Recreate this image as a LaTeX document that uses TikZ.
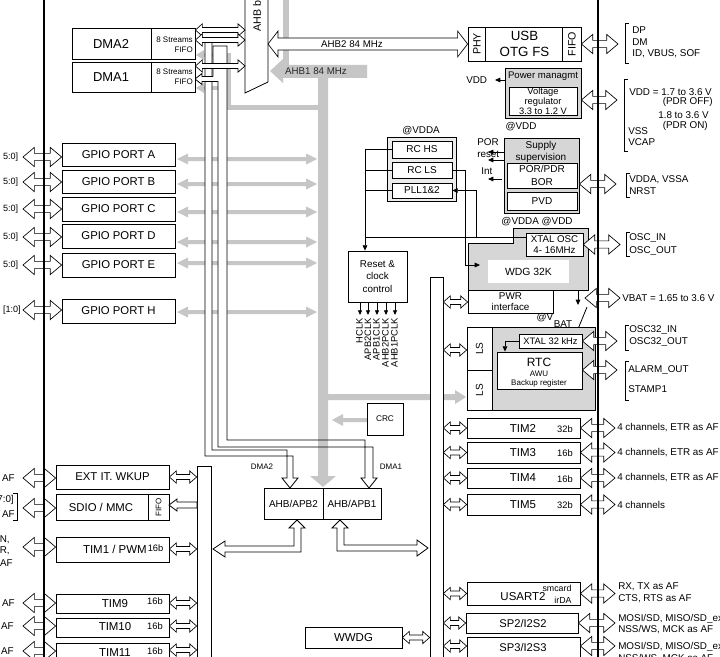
\documentclass[tikz,border=0pt]{standalone}
\usepackage{fontspec}
\setmainfont{Liberation Sans}
\usetikzlibrary{calc,arrows.meta}
\definecolor{busgrey}{RGB}{198,198,198}
\definecolor{boxgrey}{RGB}{214,214,214}
\definecolor{rcgrey}{RGB}{236,236,236}
\newcommand{\fs}[2]{\fontsize{#1pt}{#2pt}\selectfont}
\newcommand{\bx}[7][]{\node[box,minimum width={(#5-#3)*0.75pt},minimum height={(#6-#4)*0.75pt},#1] (#2) at ({(#3+#5)/2},{(#4+#6)/2}) {#7};}
\newcommand{\gdarr}[1]{\fill[busgrey] (177,#1) -- (188,#1-5.5) -- (188,#1-2) -- (306,#1-2) -- (306,#1-5.5) -- (317,#1) -- (306,#1+5.5) -- (306,#1+2) -- (188,#1+2) -- (188,#1+5.5) -- cycle;}
\newcommand{\brk}[3]{\draw[thinl] ({#1+4},#2) -- (#1,#2) -- (#1,#3) -- ({#1+4},#3);}
\tikzset{
 box/.style={draw,line width=0.6pt,fill=white,inner sep=0pt,align=center,font=\fs{8.5}{9}},
 thinl/.style={line width=0.6pt},
 harr/.style n args={3}{draw=black,line width=0.5pt,fill=white,to path={let \p1=(\tikztostart),\p2=(\tikztotarget) in (\x1,\y1) -- (\x1+#1pt,\y1+#2pt) -- (\x1+#1pt,\y1+#3pt) -- (\x2-#1pt,\y1+#3pt) -- (\x2-#1pt,\y1+#2pt) -- (\x2,\y1) -- (\x2-#1pt,\y1-#2pt) -- (\x2-#1pt,\y1-#3pt) -- (\x1+#1pt,\y1-#3pt) -- (\x1+#1pt,\y1-#2pt) -- cycle}},
 bigarr/.style={harr={8.5}{7.2}{2.7}},
 smlarr/.style={harr={5.2}{4.6}{1.9}},
 lbl/.style={inner sep=0pt,font=\fs{7.4}{8.4}},
 tip/.style={-{Triangle[length=4pt,width=3.5pt]}},
}
\begin{document}
\begin{tikzpicture}[x=0.75pt,y=-0.75pt]
\useasboundingbox (0,0) rectangle (720,656);
\clip (0,0) rectangle (720,656);
\fill[white] (0,0) rectangle (720,656);

% ---- grey secondary buses
\foreach \yy in {159,184,212,242,263,312} {\gdarr{\yy}}
\fill[busgrey] (196,55) -- (204,50) -- (204,53) -- (227,53) -- (227,57) -- (204,57) -- (204,60) -- cycle;
\fill[busgrey] (196,88) -- (204,83) -- (204,86) -- (227,86) -- (227,90) -- (204,90) -- (204,93) -- cycle;
\fill[busgrey] (227,53) rectangle (231,110);
\fill[busgrey] (227,105) rectangle (320,110);
\fill[busgrey] (328,394) -- (455,394) -- (455,390) -- (466,397) -- (455,404) -- (455,400) -- (328,400) -- cycle;
\fill[busgrey] (367,418) -- (343,418) -- (343,414) -- (332,420) -- (343,426) -- (343,422) -- (367,422) -- cycle;

% ---- DMA pipes (fill)
\fill[white] (205,43) -- (205,456) -- (293,456) -- (293,478) -- (298,478) -- (290,488) -- (282,478) -- (287,478) -- (287,450) -- (212,450) -- (212,43) -- cycle;
\fill[white] (218,81.5) -- (218,447) -- (373,447) -- (373,478) -- (377,478) -- (369,488) -- (361,478) -- (365,478) -- (365,440) -- (227,440) -- (227,46) -- (213,46) -- (213,76.5) -- cycle;

% ---- main grey buses
\fill[busgrey] (283,-2) rectangle (289,66);
\fill[busgrey] (367,65) -- (283,65) -- (283,59) -- (270,71) -- (283,83) -- (283,78) -- (367,78) -- cycle;
\fill[busgrey] (318,70) -- (318,476) -- (310,476) -- (323,487) -- (336,476) -- (328,476) -- (328,70) -- cycle;
\node[lbl,font=\fs{7.3}{8},text=black!85] at (316,71) {AHB1 84 MHz};

% ---- DMA pipes (strokes)
\draw[thinl] (205,43) -- (205,456) -- (293,456) -- (293,478) -- (298,478) -- (290,488) -- (282,478) -- (287,478) -- (287,450) -- (212,450) -- (212,43);
\draw[thinl] (213,76.5) -- (213,46) -- (227,46) -- (227,440) -- (365,440) -- (365,478) -- (361,478) -- (369,488) -- (377,478) -- (373,478) -- (373,447) -- (218,447) -- (218,81.5);
\draw[thinl,fill=white] (213,76.5) -- (202,76.5) -- (202,73.5) -- (195,79) -- (202,84.5) -- (202,81.5) -- (218,81.5);

% ---- bus matrix
\draw[thinl,fill=white] (245,-3) -- (245,93) -- (268,82) -- (268,-3);
\node[rotate=90,anchor=west,inner sep=0pt,font=\fs{8}{9}] (ahbm) at (257,32) {AHB b};

% ---- DMA
\bx{dma2}{72}{28}{195}{59}{}
\bx{dma1}{72}{62}{195}{92}{}
\draw[thinl] (151,28) -- (151,59) (151,62) -- (151,92);
\node[font=\fs{9.7}{10}] at (111,44) {DMA2};
\node[font=\fs{9.7}{10}] at (111,77) {DMA1};
\node[font=\fs{6}{7.5},align=right,anchor=east,inner sep=0pt] at (193,45) {8 Streams\\FIFO};
\node[font=\fs{6}{7.5},align=right,anchor=east,inner sep=0pt] at (193,77) {8 Streams\\FIFO};

% ---- USB
\bx[font=\fs{10}{12.5}]{usb}{468}{27}{581}{61}{USB\\OTG FS}
\draw[thinl] (485,27) -- (485,61) (562,27) -- (562,61);
\node[rotate=90,font=\fs{8}{9},inner sep=0pt] at (477,44) {PHY};
\node[rotate=90,font=\fs{8}{9},inner sep=0pt] at (572,44) {FIFO};
\draw[harr={7.5}{9.7}{4.5}] (268,44) to (usb.west);
\node[lbl,font=\fs{7.3}{8}] at (352,44) {AHB2 84 MHz};

% ---- power management
\bx[fill=boxgrey]{pwrm}{505}{68}{581}{118}{}
\node[font=\fs{7.2}{8},inner sep=0pt] at (543,76) {Power managmt};
\bx[font=\fs{7}{6.2}]{vreg}{509}{87}{577}{115}{Voltage\\regulator\\3.3 to 1.2 V}
\node[lbl,anchor=west] at (466,80) {VDD};
\draw[thinl,tip] (pwrm.west |- 0,80) -- (495,80);

% ---- RC oscillators
\bx[fill=rcgrey]{rcg}{387}{137}{456}{201}{}
\bx[font=\fs{7.5}{8}]{rchs}{392}{141}{452}{158}{RC HS}
\bx[font=\fs{7.5}{8}]{rcls}{392}{162}{452}{178}{RC LS}
\bx[font=\fs{7.5}{8}]{pll}{392}{183}{452}{198}{PLL1\&2}
\node[lbl] at (421,131) {@VDDA};

% ---- supply supervision
\bx[fill=boxgrey]{sup}{504}{138}{579}{213}{}
\node[font=\fs{7.5}{9},align=center,inner sep=0pt] at (541,152) {Supply\\supervision};
\bx[font=\fs{7.5}{9.7}]{por}{507}{163}{577}{188}{POR/PDR\\BOR}
\bx[font=\fs{7.5}{8}]{pvd}{507}{192}{577}{210}{PVD}
\node[lbl] at (521,127) {@VDD};
\node[lbl,anchor=west] at (477,142) {POR};
\node[lbl,anchor=west] at (477,154) {reset};
\node[lbl,anchor=west] at (481,171) {Int};
\draw[thinl,tip] (sup.west |- 0,152) -- (488,152);
\draw[thinl,tip] (sup.west |- 0,160) -- (488,160);
\draw[thinl,tip] (502,179) -- (488,179);

% ---- XTAL OSC / WDG
\draw[thinl,fill=boxgrey] (468,243) -- (513,243) -- (513,228) -- (588,228) -- (588,290) -- (468,290) -- cycle;
\bx[font=\fs{7.3}{8.5}]{xosc}{526}{233}{583}{256}{XTAL OSC\\4- 16MHz}
\node[fill=white,minimum width={81*0.75pt},minimum height={23*0.75pt},inner sep=0pt,font=\fs{7.8}{9}] (wdg) at (528.5,271.5) {WDG 32K};
\node[lbl] at (537,222) {@VDDA @VDD};

% ---- RCC
\bx[font=\fs{7.4}{9.4}]{rcc}{348}{251}{407}{302}{Reset \&\\clock\\control}
\draw[thinl,tip] (rchs.west) -- (365,149.5) -- (rcc.north -| 365,0);
\draw[thinl] (rcls.west) -- (365,170);
\draw[thinl] (pll.west) -- (365,190.5);
\draw[thinl,tip] (rcls.east) -- (465,170) -- (465,265) -- (480,265);
\draw[thinl] (xosc.west |- 0,237) -- (365,237);
\draw[thinl,tip] (476,237) -- (476,190.5) -- (pll.east);
\foreach \xx in {360,368,377,386,395} \draw[thinl,-{Triangle[length=3.5pt,width=3pt]}] (\xx,302) -- (\xx,315);
\foreach \xx/\lab in {359.5/HCLK,368/APB2CLK,376.5/APB1CLK,385.5/AHB2PCLK,394.5/AHB1PCLK}
  \node[rotate=90,anchor=east,inner sep=0pt,font=\fs{7}{8}] at (\xx,318) {\lab};

% ---- PWR / RTC
\bx[font=\fs{7.4}{8.3}]{pwr}{468}{290}{553}{313}{PWR\\interface}
\draw[thinl,tip] (578,290) -- (578,305);
\draw[thinl] (578,329) -- (587,307);
\node[lbl] at (545,318) {@V};
\node[lbl] at (563,324) {BAT};
\bx[fill=boxgrey]{rtcblk}{467}{327}{595}{410}{}
\bx{ls1}{467}{327}{492}{370}{}
\bx{ls2}{467}{370}{492}{410}{}
\node[rotate=90,font=\fs{7.5}{8},inner sep=0pt] at (ls1) {LS};
\node[rotate=90,font=\fs{7.5}{8},inner sep=0pt] at (ls2) {LS};
\bx[font=\fs{7}{8}]{x32}{519}{334}{582}{348}{XTAL 32 kHz}
\bx{rtc}{497}{352}{582}{389}{}
\node[font=\fs{9}{10},inner sep=0pt] at (539,362) {RTC};
\node[font=\fs{6}{7},inner sep=0pt] at (539,374) {AWU};
\node[font=\fs{6}{7},inner sep=0pt] at (539,383) {Backup register};
\draw[thinl,tip] (x32.west) -- (505,341) -- (rtc.north -| 505,0);

% ---- CRC, bars
\bx[font=\fs{6.2}{7}]{crc}{367}{403}{403}{435}{CRC}
\bx{apb1bar}{430}{277}{443}{662}{}
\bx{apb2bar}{197}{466}{211}{662}{}

% ---- APB1 peripherals
\bx{tim2}{467}{418}{580}{438}{}
\bx{tim3}{467}{442}{580}{463}{}
\bx{tim4}{467}{468}{580}{488}{}
\bx{tim5}{467}{494}{580}{515}{}
\foreach \nm/\yy/\bits in {TIM2/428/32b,TIM3/452.5/16b,TIM4/478/16b,TIM5/504.5/32b}
  {\node[font=\fs{8.6}{9},inner sep=0pt] at (523,\yy) {\nm};
   \node[font=\fs{7}{8},inner sep=0pt] at (565,\yy+1) {\bits};}
\bx{usart}{467}{582}{580}{605}{}
\node[font=\fs{8.6}{9},inner sep=0pt] at (523,597) {USART2};
\node[font=\fs{6.6}{7},inner sep=0pt] at (557,588) {smcard};
\node[font=\fs{6.6}{7},inner sep=0pt] at (563,600) {irDA};
\bx{sp2}{466}{613}{578}{633}{}
\node[font=\fs{8.4}{9},inner sep=0pt] at (523,623) {SP2/I2S2};
\bx{sp3}{467}{637}{580}{672}{}
\node[font=\fs{8.4}{9},inner sep=0pt] at (523,647) {SP3/I2S3};
\bx[font=\fs{8.6}{9}]{wwdg}{305}{627}{402}{648}{WWDG}

% ---- bridges
\bx[font=\fs{7.5}{8}]{apb2}{264}{488}{323}{519}{AHB/APB2}
\bx[font=\fs{7.5}{8}]{apb1}{323}{488}{381}{519}{AHB/APB1}
\node[font=\fs{6}{7},inner sep=0pt] at (262,467) {DMA2};
\node[font=\fs{6}{7},inner sep=0pt] at (391,467) {DMA1};
\draw[thinl,fill=white] (297,520) -- (305,528) -- (301,528) -- (301,552) -- (225,552) -- (225,557) -- (213,549) -- (225,541) -- (225,546) -- (294,546) -- (294,528) -- (289,528) -- cycle;
\draw[thinl,fill=white] (340,520) -- (348,528) -- (344,528) -- (344,545) -- (417,545) -- (417,540) -- (428,548) -- (417,556) -- (417,551) -- (337,551) -- (337,528) -- (332,528) -- cycle;

% ---- GPIO and APB2 peripherals
\bx{gpA}{62}{143}{175}{166}{GPIO PORT A}
\bx{gpB}{62}{170}{175}{193}{GPIO PORT B}
\bx{gpC}{62}{197}{175}{221}{GPIO PORT C}
\bx{gpD}{62}{224}{175}{248}{GPIO PORT D}
\bx{gpE}{62}{253}{175}{277}{GPIO PORT E}
\bx{gpH}{62}{299}{175}{323}{GPIO PORT H}
\bx{ext}{56}{465}{169}{489}{EXT IT. WKUP}
\bx{sdio}{56}{494}{169}{520}{}
\draw[thinl] (148,494) -- (148,520);
\node[font=\fs{8.5}{9},inner sep=0pt] at (101,507) {SDIO / MMC};
\node[rotate=90,font=\fs{6}{7},inner sep=0pt] at (158.5,507) {FIFO};
\bx{tim1}{56}{537}{169}{562}{}
\node[font=\fs{8.6}{9},inner sep=0pt,anchor=east] at (147,549) {TIM1 / PWM};
\node[font=\fs{7}{8},inner sep=0pt,anchor=west] at (147.5,548) {16b};
\bx{tim9}{56}{594}{169}{613}{}
\bx{tim10}{56}{618}{169}{637}{}
\bx{tim11}{56}{643}{169}{672}{}
\foreach \nm/\yy/\by in {TIM9/604/601,TIM10/627/626,TIM11/653/651}
  {\node[font=\fs{8.6}{9},inner sep=0pt] at (115,\yy) {\nm};
   \node[font=\fs{7}{8},inner sep=0pt] at (155,\by) {16b};}

% ---- hollow arrows, left
\draw[bigarr] (23,157) to (gpA.west);
\draw[bigarr] (23,182) to (gpB.west);
\draw[bigarr] (23,209) to (gpC.west);
\draw[bigarr] (23,237) to (gpD.west);
\draw[bigarr] (23,265) to (gpE.west);
\draw[bigarr] (23,310) to (gpH.west);
\draw[bigarr] (23,478) to (ext.west);
\draw[bigarr] (23,508) to (sdio.west);
\draw[bigarr] (23,547) to (tim1.west);
\draw[bigarr] (23,603) to (tim9.west);
\draw[bigarr] (23,626) to (tim10.west);
\draw[bigarr] (23,651) to (tim11.west);
\draw[smlarr] (dma2.east |- 0,30) to (245,30);
\draw[smlarr] (dma2.east |- 0,40) to (245,40);
\draw[smlarr] (dma1.east |- 0,66) to (245,66);
\draw[smlarr] (ext.east) to (apb2bar.west |- ext.east);
\draw[smlarr] (tim1.east |- 0,549) to (apb2bar.west |- 0,549);
\draw[smlarr] (tim9.east |- 0,603) to (apb2bar.west |- 0,603);
\draw[smlarr] (tim10.east |- 0,626) to (apb2bar.west |- 0,626);
\draw[smlarr] (tim11.east |- 0,650) to (apb2bar.west |- 0,650);
\draw[thinl,fill=white] (169,505) -- (177,499) -- (177,502) -- (197,502) -- (197,508) -- (177,508) -- (177,511) -- cycle;

% ---- hollow arrows, right
\draw[smlarr] (apb1bar.east |- 0,302) to (pwr.west);
\draw[smlarr] (apb1bar.east |- 0,350) to (ls1.west);
\draw[smlarr] (apb1bar.east |- tim2.west) to (tim2.west);
\draw[smlarr] (apb1bar.east |- tim3.west) to (tim3.west);
\draw[smlarr] (apb1bar.east |- tim4.west) to (tim4.west);
\draw[smlarr] (apb1bar.east |- tim5.west) to (tim5.west);
\draw[smlarr] (apb1bar.east |- usart.west) to (usart.west);
\draw[smlarr] (apb1bar.east |- sp2.west) to (sp2.west);
\draw[smlarr] (apb1bar.east |- 0,646) to (sp3.west);
\draw[smlarr] (wwdg.east) to (apb1bar.west |- wwdg.east);
\draw[bigarr] (usb.east) to (618,44);
\draw[bigarr] (pwrm.east |- 0,100) to (617,100);
\draw[bigarr] (sup.east |- 0,184) to (616,184);
\draw[bigarr] (xosc.east) to (620,245);
\draw[bigarr] (585,298) to (620,298);
\draw[bigarr] (x32.east) to (617,341);
\draw[bigarr] (rtc.east |- 0,370) to (617,370);
\draw[bigarr] (tim2.east) to (615,428);
\draw[bigarr] (tim3.east) to (615,452.5);
\draw[bigarr] (tim4.east) to (615,478);
\draw[bigarr] (tim5.east) to (615,504.5);
\draw[bigarr] (usart.east) to (615,593);
\draw[bigarr] (sp2.east) to (615,623);
\draw[bigarr] (sp3.east |- 0,646) to (615,646);

% ---- main vertical lines
\draw[line width=1.3pt] (44,-3) -- (44,660);
\draw[line width=1.3pt] (598,-3) -- (598,660);

% ---- right labels
\brk{625}{23}{63}
\node[lbl,anchor=west] at (632,30) {DP};
\node[lbl,anchor=west] at (632,42) {DM};
\node[lbl,anchor=west] at (632,54) {ID, VBUS, SOF};
\brk{624}{79}{151}
\node[lbl,anchor=west] at (629,92) {VDD = 1.7 to 3.6 V};
\node[lbl,anchor=east] at (713,102) {(PDR OFF)};
\node[lbl,anchor=east] at (709,115) {1.8 to 3.6 V};
\node[lbl,anchor=east] at (708,126) {(PDR ON)};
\node[lbl,anchor=west] at (628,131) {VSS};
\node[lbl,anchor=west] at (628,142) {VCAP};
\brk{626}{173}{197}
\node[lbl,anchor=west] at (629,180) {VDDA, VSSA};
\node[lbl,anchor=west] at (629,191) {NRST};
\brk{626}{232}{256}
\node[lbl,anchor=west] at (629,238) {OSC\_IN};
\node[lbl,anchor=west] at (629,251) {OSC\_OUT};
\node[lbl,anchor=west] at (622,298) {VBAT = 1.65 to 3.6 V};
\brk{625}{325}{350}
\node[lbl,anchor=west] at (629,330) {OSC32\_IN};
\node[lbl,anchor=west] at (629,342) {OSC32\_OUT};
\brk{625}{361}{400}
\node[lbl,anchor=west] at (628,370) {ALARM\_OUT};
\node[lbl,anchor=west] at (628,389) {STAMP1};
\foreach \yy in {428,452.5,478} \node[lbl,anchor=west] at (617,\yy) {4 channels, ETR as AF};
\node[lbl,anchor=west] at (617,504.5) {4 channels};
\node[lbl,anchor=west] at (618,587) {RX, TX as AF};
\node[lbl,anchor=west] at (618,599) {CTS, RTS as AF};
\node[lbl,anchor=west] at (618,619) {MOSI/SD, MISO/SD\_ext,};
\node[lbl,anchor=west] at (618,630) {NSS/WS, MCK as AF};
\node[lbl,anchor=west] at (618,647) {MOSI/SD, MISO/SD\_ext,};
\node[lbl,anchor=west] at (618,659) {NSS/WS, MCK as AF};

% ---- left labels
\foreach \yy in {157,182,209,237,265} \node[lbl,anchor=east,font=\fs{6.8}{8}] at (18.5,\yy) {5:0]};
\node[lbl,anchor=east,font=\fs{6.8}{8}] at (21,310) {[1:0]};
\node[lbl,anchor=east] at (15,478) {AF};
\node[lbl,anchor=east] at (14,500) {7:0]};
\node[lbl,anchor=east] at (15,514) {AF};
\draw[thinl] (13,493) -- (17,493) -- (17,520) -- (13,520);
\node[lbl,anchor=east] at (10,540) {N,};
\node[lbl,anchor=east] at (10,551) {R,};
\node[lbl,anchor=east] at (13,563) {AF};
\node[lbl,anchor=east] at (15,603) {AF};
\node[lbl,anchor=east] at (14,626) {AF};
\node[lbl,anchor=east] at (14,651) {AF};
\end{tikzpicture}
\end{document}
